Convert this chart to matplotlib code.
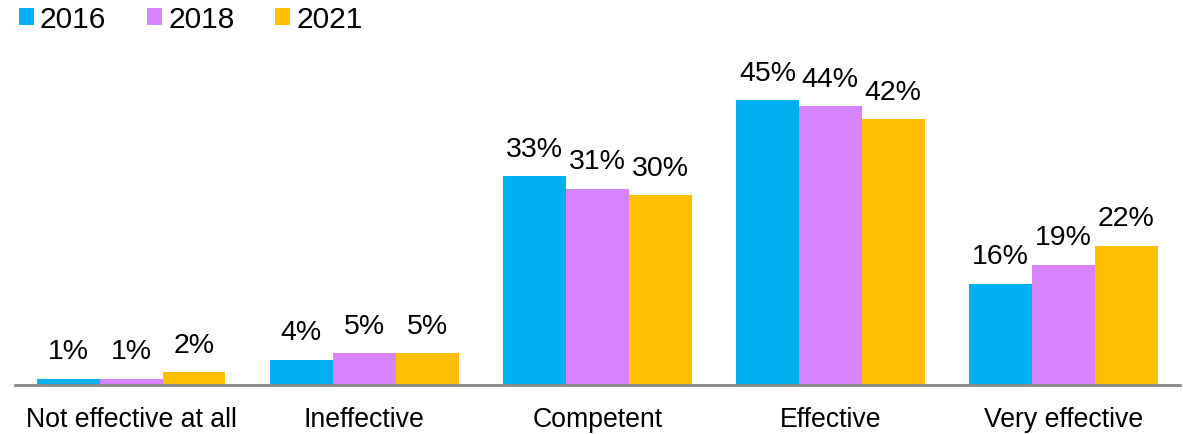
import matplotlib
matplotlib.use("Agg")
import matplotlib.pyplot as plt
import numpy as np
from matplotlib.patches import Patch

plt.rcParams['font.family'] = ['Liberation Sans', 'DejaVu Sans']

categories = ["Not effective at all", "Ineffective", "Competent", "Effective", "Very effective"]
years = ["2016", "2018", "2021"]
values_2016 = [1, 4, 33, 45, 16]
values_2018 = [1, 5, 31, 44, 19]
values_2021 = [2, 5, 30, 42, 22]
colors = ["#00B0F0", "#D783FC", "#FFC000"]

W, H = 1183, 435
fig = plt.figure(figsize=(W / 100, H / 100), dpi=100)
ax = fig.add_axes([14.5 / W, (H - 386) / H, (1180 - 14.5) / W, (386 - 60) / H])

x = np.arange(len(categories))
width = 0.27
series = [values_2016, values_2018, values_2021]
for i, (vals, col) in enumerate(zip(series, colors)):
    pos = x + (i - 1) * width
    bars = ax.bar(pos, vals, width=width, color=col, edgecolor="none", zorder=2)
    for b, v in zip(bars, vals):
        ax.annotate(f"{v}%", (b.get_x() + b.get_width() / 2, v),
                    xytext=(0, 10.5), textcoords="offset points",
                    ha="center", va="bottom", fontsize=20.5, color="#000000")

ax.set_xlim(-0.5, 4.5)
ax.set_ylim(0, 51.5)
for s in ["top", "right", "left"]:
    ax.spines[s].set_visible(False)
ax.spines["bottom"].set_color("#898989")
ax.spines["bottom"].set_linewidth(2)
ax.spines["bottom"].set_zorder(3)
ax.set_yticks([])
ax.set_xticks(x)
ax.set_xticklabels(categories, fontsize=19.2)
ax.tick_params(axis="x", length=0, pad=15)

handles = [Patch(facecolor=c, edgecolor="none") for c in colors]
fig.legend(handles, years, loc="upper left", bbox_to_anchor=(7 / W, 1.013),
           ncol=3, frameon=False, fontsize=21.5, handlelength=0.5, handleheight=0.5,
           handletextpad=0.2, columnspacing=1.37, borderaxespad=0)

fig.savefig("out.png", dpi=100)
